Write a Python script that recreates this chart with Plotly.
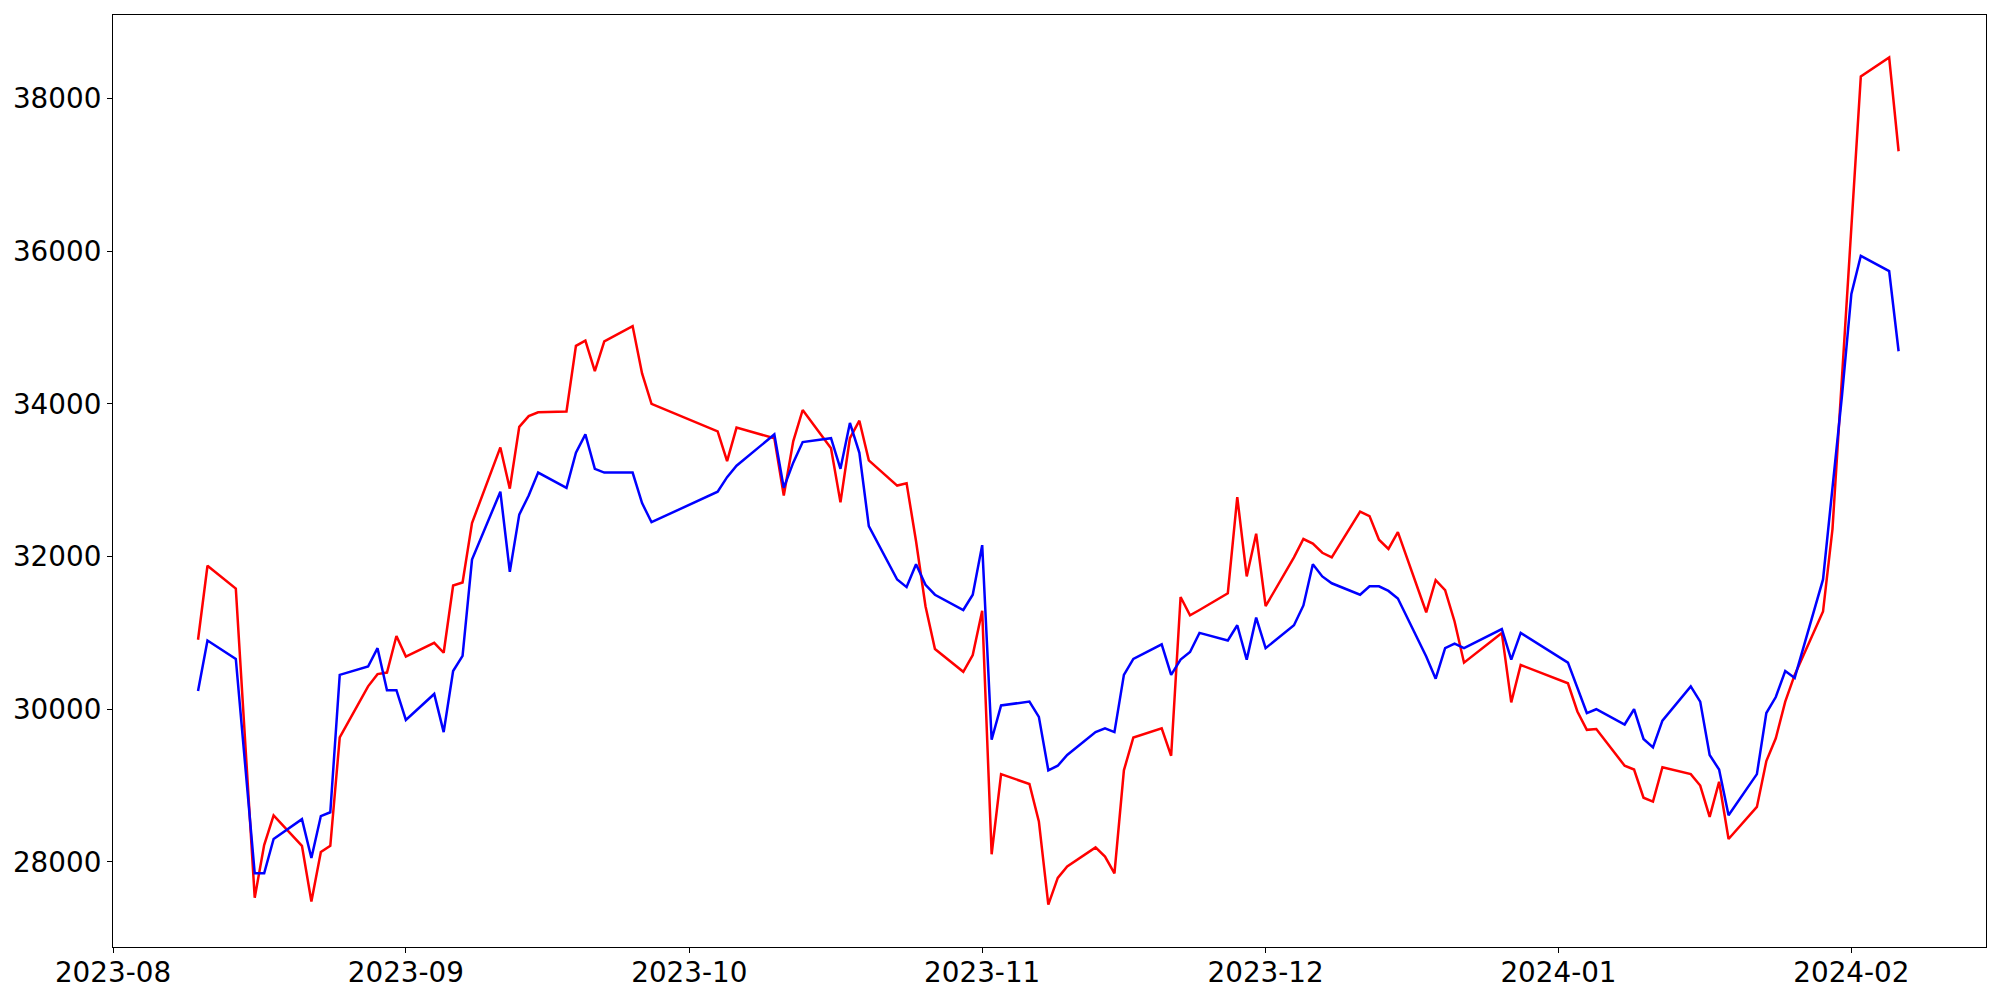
import plotly.graph_objects as go

dates = [
    "2023-08-10", "2023-08-11", "2023-08-14", "2023-08-16", "2023-08-17", "2023-08-18",
    "2023-08-21", "2023-08-22", "2023-08-23", "2023-08-24", "2023-08-25",
    "2023-08-28", "2023-08-29", "2023-08-30", "2023-08-31", "2023-09-01",
    "2023-09-04", "2023-09-05", "2023-09-06", "2023-09-07", "2023-09-08",
    "2023-09-11", "2023-09-12", "2023-09-13", "2023-09-14", "2023-09-15",
    "2023-09-18", "2023-09-19", "2023-09-20", "2023-09-21", "2023-09-22",
    "2023-09-25", "2023-09-26", "2023-09-27",
    "2023-10-04", "2023-10-05", "2023-10-06",
    "2023-10-10", "2023-10-11", "2023-10-12", "2023-10-13",
    "2023-10-16", "2023-10-17", "2023-10-18", "2023-10-19", "2023-10-20",
    "2023-10-23", "2023-10-24", "2023-10-25", "2023-10-26", "2023-10-27",
    "2023-10-30", "2023-10-31", "2023-11-01", "2023-11-02", "2023-11-03",
    "2023-11-06", "2023-11-07", "2023-11-08", "2023-11-09", "2023-11-10",
    "2023-11-13", "2023-11-14", "2023-11-15", "2023-11-16", "2023-11-17",
    "2023-11-20", "2023-11-21", "2023-11-22", "2023-11-23", "2023-11-24",
    "2023-11-27", "2023-11-28", "2023-11-29", "2023-11-30", "2023-12-01",
    "2023-12-04", "2023-12-05", "2023-12-06", "2023-12-07", "2023-12-08",
    "2023-12-11", "2023-12-12", "2023-12-13", "2023-12-14", "2023-12-15",
    "2023-12-18", "2023-12-19", "2023-12-20", "2023-12-21", "2023-12-22",
    "2023-12-26", "2023-12-27", "2023-12-28",
    "2024-01-02", "2024-01-03", "2024-01-04", "2024-01-05",
    "2024-01-08", "2024-01-09", "2024-01-10", "2024-01-11", "2024-01-12",
    "2024-01-15", "2024-01-16", "2024-01-17", "2024-01-18", "2024-01-19",
    "2024-01-22", "2024-01-23", "2024-01-24", "2024-01-25", "2024-01-26",
    "2024-01-29", "2024-01-30", "2024-01-31", "2024-02-01", "2024-02-02",
    "2024-02-05", "2024-02-06",
]

red_values = [
    30910, 31880, 31580, 27530, 28220, 28610,
    28210, 27480, 28130, 28210, 29630,
    30300, 30460, 30480, 30960, 30690,
    30870, 30740, 31620, 31660, 32440,
    33430, 32890, 33700, 33840, 33890,
    33900, 34760, 34830, 34430, 34820,
    35020, 34400, 34000,
    33640, 33250, 33690,
    33550, 32800, 33510, 33920,
    33420, 32710, 33550, 33780, 33260,
    32930, 32960, 32200, 31350, 30790,
    30490, 30710, 31290, 28100, 29150,
    29020, 28530, 27440, 27790, 27940,
    28190, 28070, 27850, 29200, 29630,
    29750, 29390, 31470, 31230, 31300,
    31520, 32780, 31740, 32300, 31350,
    31990, 32230, 32170, 32050, 31990,
    32590, 32530, 32220, 32100, 32320,
    31270, 31690, 31560, 31150, 30610,
    31000, 30090, 30580,
    30340, 29970, 29730, 29740,
    29260, 29210, 28840, 28790, 29240,
    29150, 29000, 28590, 29050, 28300,
    28720, 29320, 29620, 30100, 30450,
    31280, 32360, 34300, 36260, 38290,
    38540, 37310,
]

blue_values = [
    30240, 30900, 30660, 27850, 27850, 28300,
    28560, 28050, 28600, 28650, 30450,
    30560, 30800, 30250, 30250, 29860,
    30200, 29700, 30500, 30700, 31960,
    32850, 31800, 32550, 32800, 33100,
    32900, 33360, 33600, 33150, 33100,
    33100, 32700, 32450,
    32850, 33040, 33190,
    33600, 32900, 33230, 33500,
    33550, 33150, 33750, 33360, 32400,
    31700, 31600, 31900, 31630, 31500,
    31300, 31500, 32150, 29600, 30050,
    30100, 29900, 29200, 29260, 29400,
    29700, 29750, 29700, 30450, 30660,
    30850, 30450, 30650, 30750, 31000,
    30900, 31100, 30650, 31200, 30800,
    31100, 31360, 31900, 31740, 31650,
    31500, 31610, 31610, 31550, 31450,
    30690, 30400, 30800, 30860, 30800,
    31050, 30650, 31000,
    30610, 30280, 29950, 30000,
    29800, 30000, 29610, 29500, 29850,
    30300, 30100, 29400, 29210, 28610,
    29150, 29950, 30160, 30500, 30410,
    31700, 32900, 34100, 35440, 35940,
    35740, 34690,
]

y_ticks = [28000, 30000, 32000, 34000, 36000, 38000]
x_ticks = ["2023-08-01", "2023-09-01", "2023-10-01", "2023-11-01",
           "2023-12-01", "2024-01-01", "2024-02-01"]
x_tick_labels = ["2023-08", "2023-09", "2023-10", "2023-11",
                 "2023-12", "2024-01", "2024-02"]

all_vals = red_values + blue_values
vmin, vmax = min(all_vals), max(all_vals)
pad = 0.05 * (vmax - vmin)

fig = go.Figure()
fig.add_trace(go.Scatter(x=dates, y=red_values, mode="lines",
                         line=dict(color="#ff0000", width=2.5), name="red"))
fig.add_trace(go.Scatter(x=dates, y=blue_values, mode="lines",
                         line=dict(color="#0000ff", width=2.5), name="blue"))

axis_common = dict(
    showline=True, linecolor="black", linewidth=1.1, mirror=True,
    showgrid=False, zeroline=False,
    ticks="outside", ticklen=5, tickwidth=1.1, tickcolor="black",
    tickfont=dict(family="DejaVu Sans", size=27.8, color="black"),
)

# The page body has an 8px default margin, so the figure is sized to fit
# inside the 2000x1000 window with the plot area where the reference has it.
fig.update_layout(
    width=1984, height=984,
    margin=dict(l=105, r=6, t=7, b=45, autoexpand=False),
    plot_bgcolor="white", paper_bgcolor="white",
    showlegend=False,
    xaxis=dict(range=["2023-08-01", "2024-02-15 06:00"],
               tickmode="array", tickvals=x_ticks, ticktext=x_tick_labels,
               ticklabelstandoff=-4,
               **axis_common),
    yaxis=dict(range=[vmin - pad, vmax + pad],
               tickmode="array", tickvals=y_ticks,
               ticktext=[str(v) for v in y_ticks],
               **axis_common),
)

fig.write_html("out.html")
